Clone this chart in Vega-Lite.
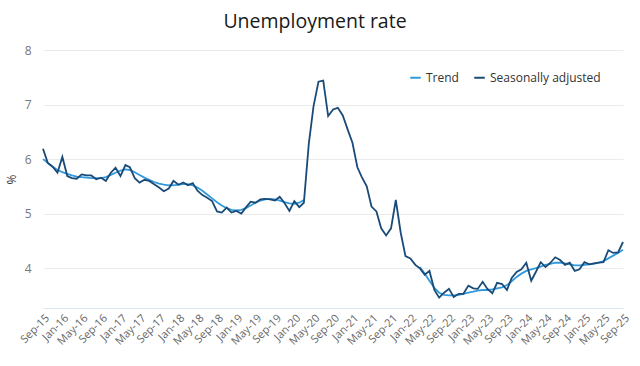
{
  "$schema": "https://vega.github.io/schema/vega-lite/v6.json",
  "autosize": "none",
  "width": 580,
  "height": 258,
  "padding": {"left": 43, "top": 50, "right": 17, "bottom": 58},
  "background": "white",
  "config": {
    "font": "Open Sans",
    "view": {"stroke": null},
    "axis": {"labelFont": "Open Sans", "titleFont": "Open Sans"},
    "legend": {"labelFont": "Open Sans"}
  },
  "title": {
    "text": "Unemployment rate",
    "fontSize": 19.5,
    "fontWeight": "normal",
    "color": "#1a1a1a",
    "offset": 12,
    "dx": -18
  },
  "datasets": {
    "sa": [
      {"date": "2015-09-01", "value": 6.19}, {"date": "2015-10-01", "value": 5.93}, {"date": "2015-11-01", "value": 5.86}, {"date": "2015-12-01", "value": 5.75},
      {"date": "2016-01-01", "value": 6.04}, {"date": "2016-02-01", "value": 5.69}, {"date": "2016-03-01", "value": 5.65}, {"date": "2016-04-01", "value": 5.64},
      {"date": "2016-05-01", "value": 5.72}, {"date": "2016-06-01", "value": 5.7}, {"date": "2016-07-01", "value": 5.7}, {"date": "2016-08-01", "value": 5.63},
      {"date": "2016-09-01", "value": 5.66}, {"date": "2016-10-01", "value": 5.6}, {"date": "2016-11-01", "value": 5.75}, {"date": "2016-12-01", "value": 5.84},
      {"date": "2017-01-01", "value": 5.69}, {"date": "2017-02-01", "value": 5.89}, {"date": "2017-03-01", "value": 5.85}, {"date": "2017-04-01", "value": 5.65},
      {"date": "2017-05-01", "value": 5.57}, {"date": "2017-06-01", "value": 5.62}, {"date": "2017-07-01", "value": 5.6}, {"date": "2017-08-01", "value": 5.54},
      {"date": "2017-09-01", "value": 5.48}, {"date": "2017-10-01", "value": 5.41}, {"date": "2017-11-01", "value": 5.46}, {"date": "2017-12-01", "value": 5.6},
      {"date": "2018-01-01", "value": 5.53}, {"date": "2018-02-01", "value": 5.57}, {"date": "2018-03-01", "value": 5.52}, {"date": "2018-04-01", "value": 5.56},
      {"date": "2018-05-01", "value": 5.42}, {"date": "2018-06-01", "value": 5.34}, {"date": "2018-07-01", "value": 5.29}, {"date": "2018-08-01", "value": 5.23},
      {"date": "2018-09-01", "value": 5.04}, {"date": "2018-10-01", "value": 5.02}, {"date": "2018-11-01", "value": 5.11}, {"date": "2018-12-01", "value": 5.02},
      {"date": "2019-01-01", "value": 5.05}, {"date": "2019-02-01", "value": 5.0}, {"date": "2019-03-01", "value": 5.11}, {"date": "2019-04-01", "value": 5.22},
      {"date": "2019-05-01", "value": 5.2}, {"date": "2019-06-01", "value": 5.26}, {"date": "2019-07-01", "value": 5.27}, {"date": "2019-08-01", "value": 5.26},
      {"date": "2019-09-01", "value": 5.24}, {"date": "2019-10-01", "value": 5.31}, {"date": "2019-11-01", "value": 5.19}, {"date": "2019-12-01", "value": 5.05},
      {"date": "2020-01-01", "value": 5.23}, {"date": "2020-02-01", "value": 5.12}, {"date": "2020-03-01", "value": 5.2}, {"date": "2020-04-01", "value": 6.28},
      {"date": "2020-05-01", "value": 6.97}, {"date": "2020-06-01", "value": 7.42}, {"date": "2020-07-01", "value": 7.44}, {"date": "2020-08-01", "value": 6.79},
      {"date": "2020-09-01", "value": 6.91}, {"date": "2020-10-01", "value": 6.94}, {"date": "2020-11-01", "value": 6.8}, {"date": "2020-12-01", "value": 6.55},
      {"date": "2021-01-01", "value": 6.3}, {"date": "2021-02-01", "value": 5.85}, {"date": "2021-03-01", "value": 5.67}, {"date": "2021-04-01", "value": 5.5},
      {"date": "2021-05-01", "value": 5.13}, {"date": "2021-06-01", "value": 5.04}, {"date": "2021-07-01", "value": 4.73}, {"date": "2021-08-01", "value": 4.6},
      {"date": "2021-09-01", "value": 4.73}, {"date": "2021-10-01", "value": 5.25}, {"date": "2021-11-01", "value": 4.65}, {"date": "2021-12-01", "value": 4.22},
      {"date": "2022-01-01", "value": 4.18}, {"date": "2022-02-01", "value": 4.06}, {"date": "2022-03-01", "value": 4.0}, {"date": "2022-04-01", "value": 3.88},
      {"date": "2022-05-01", "value": 3.95}, {"date": "2022-06-01", "value": 3.6}, {"date": "2022-07-01", "value": 3.46}, {"date": "2022-08-01", "value": 3.55},
      {"date": "2022-09-01", "value": 3.62}, {"date": "2022-10-01", "value": 3.47}, {"date": "2022-11-01", "value": 3.53}, {"date": "2022-12-01", "value": 3.53},
      {"date": "2023-01-01", "value": 3.68}, {"date": "2023-02-01", "value": 3.63}, {"date": "2023-03-01", "value": 3.62}, {"date": "2023-04-01", "value": 3.75},
      {"date": "2023-05-01", "value": 3.62}, {"date": "2023-06-01", "value": 3.54}, {"date": "2023-07-01", "value": 3.73}, {"date": "2023-08-01", "value": 3.71},
      {"date": "2023-09-01", "value": 3.6}, {"date": "2023-10-01", "value": 3.82}, {"date": "2023-11-01", "value": 3.93}, {"date": "2023-12-01", "value": 3.98},
      {"date": "2024-01-01", "value": 4.1}, {"date": "2024-02-01", "value": 3.77}, {"date": "2024-03-01", "value": 3.93}, {"date": "2024-04-01", "value": 4.11},
      {"date": "2024-05-01", "value": 4.02}, {"date": "2024-06-01", "value": 4.1}, {"date": "2024-07-01", "value": 4.2}, {"date": "2024-08-01", "value": 4.15},
      {"date": "2024-09-01", "value": 4.06}, {"date": "2024-10-01", "value": 4.1}, {"date": "2024-11-01", "value": 3.95}, {"date": "2024-12-01", "value": 3.98},
      {"date": "2025-01-01", "value": 4.11}, {"date": "2025-02-01", "value": 4.07}, {"date": "2025-03-01", "value": 4.09}, {"date": "2025-04-01", "value": 4.1},
      {"date": "2025-05-01", "value": 4.11}, {"date": "2025-06-01", "value": 4.33}, {"date": "2025-07-01", "value": 4.28}, {"date": "2025-08-01", "value": 4.29},
      {"date": "2025-09-01", "value": 4.48}
    ],
    "trend": [
      {"date": "2015-09-01", "value": 6.0, "part": "a"}, {"date": "2015-10-01", "value": 5.93, "part": "a"}, {"date": "2015-11-01", "value": 5.86, "part": "a"}, {"date": "2015-12-01", "value": 5.8, "part": "a"},
      {"date": "2016-01-01", "value": 5.76, "part": "a"}, {"date": "2016-02-01", "value": 5.73, "part": "a"}, {"date": "2016-03-01", "value": 5.7, "part": "a"}, {"date": "2016-04-01", "value": 5.68, "part": "a"},
      {"date": "2016-05-01", "value": 5.67, "part": "a"}, {"date": "2016-06-01", "value": 5.66, "part": "a"}, {"date": "2016-07-01", "value": 5.65, "part": "a"}, {"date": "2016-08-01", "value": 5.65, "part": "a"},
      {"date": "2016-09-01", "value": 5.65, "part": "a"}, {"date": "2016-10-01", "value": 5.67, "part": "a"}, {"date": "2016-11-01", "value": 5.71, "part": "a"}, {"date": "2016-12-01", "value": 5.75, "part": "a"},
      {"date": "2017-01-01", "value": 5.79, "part": "a"}, {"date": "2017-02-01", "value": 5.81, "part": "a"}, {"date": "2017-03-01", "value": 5.8, "part": "a"}, {"date": "2017-04-01", "value": 5.76, "part": "a"},
      {"date": "2017-05-01", "value": 5.71, "part": "a"}, {"date": "2017-06-01", "value": 5.66, "part": "a"}, {"date": "2017-07-01", "value": 5.62, "part": "a"}, {"date": "2017-08-01", "value": 5.58, "part": "a"},
      {"date": "2017-09-01", "value": 5.55, "part": "a"}, {"date": "2017-10-01", "value": 5.53, "part": "a"}, {"date": "2017-11-01", "value": 5.52, "part": "a"}, {"date": "2017-12-01", "value": 5.52, "part": "a"},
      {"date": "2018-01-01", "value": 5.53, "part": "a"}, {"date": "2018-02-01", "value": 5.54, "part": "a"}, {"date": "2018-03-01", "value": 5.54, "part": "a"}, {"date": "2018-04-01", "value": 5.52, "part": "a"},
      {"date": "2018-05-01", "value": 5.48, "part": "a"}, {"date": "2018-06-01", "value": 5.42, "part": "a"}, {"date": "2018-07-01", "value": 5.35, "part": "a"}, {"date": "2018-08-01", "value": 5.28, "part": "a"},
      {"date": "2018-09-01", "value": 5.21, "part": "a"}, {"date": "2018-10-01", "value": 5.15, "part": "a"}, {"date": "2018-11-01", "value": 5.1, "part": "a"}, {"date": "2018-12-01", "value": 5.07, "part": "a"},
      {"date": "2019-01-01", "value": 5.06, "part": "a"}, {"date": "2019-02-01", "value": 5.07, "part": "a"}, {"date": "2019-03-01", "value": 5.1, "part": "a"}, {"date": "2019-04-01", "value": 5.15, "part": "a"},
      {"date": "2019-05-01", "value": 5.2, "part": "a"}, {"date": "2019-06-01", "value": 5.24, "part": "a"}, {"date": "2019-07-01", "value": 5.26, "part": "a"}, {"date": "2019-08-01", "value": 5.27, "part": "a"},
      {"date": "2019-09-01", "value": 5.26, "part": "a"}, {"date": "2019-10-01", "value": 5.24, "part": "a"}, {"date": "2019-11-01", "value": 5.21, "part": "a"}, {"date": "2019-12-01", "value": 5.19, "part": "a"},
      {"date": "2020-01-01", "value": 5.18, "part": "a"}, {"date": "2020-02-01", "value": 5.2, "part": "a"}, {"date": "2020-03-01", "value": 5.25, "part": "a"},
      {"date": "2022-03-01", "value": 4.02, "part": "b"}, {"date": "2022-04-01", "value": 3.9, "part": "b"},
      {"date": "2022-05-01", "value": 3.77, "part": "b"}, {"date": "2022-06-01", "value": 3.64, "part": "b"}, {"date": "2022-07-01", "value": 3.55, "part": "b"}, {"date": "2022-08-01", "value": 3.51, "part": "b"},
      {"date": "2022-09-01", "value": 3.5, "part": "b"}, {"date": "2022-10-01", "value": 3.5, "part": "b"}, {"date": "2022-11-01", "value": 3.51, "part": "b"}, {"date": "2022-12-01", "value": 3.53, "part": "b"},
      {"date": "2023-01-01", "value": 3.55, "part": "b"}, {"date": "2023-02-01", "value": 3.57, "part": "b"}, {"date": "2023-03-01", "value": 3.59, "part": "b"}, {"date": "2023-04-01", "value": 3.6, "part": "b"},
      {"date": "2023-05-01", "value": 3.6, "part": "b"}, {"date": "2023-06-01", "value": 3.61, "part": "b"}, {"date": "2023-07-01", "value": 3.63, "part": "b"}, {"date": "2023-08-01", "value": 3.65, "part": "b"},
      {"date": "2023-09-01", "value": 3.69, "part": "b"}, {"date": "2023-10-01", "value": 3.76, "part": "b"}, {"date": "2023-11-01", "value": 3.84, "part": "b"}, {"date": "2023-12-01", "value": 3.9, "part": "b"},
      {"date": "2024-01-01", "value": 3.95, "part": "b"}, {"date": "2024-02-01", "value": 3.98, "part": "b"}, {"date": "2024-03-01", "value": 4.0, "part": "b"}, {"date": "2024-04-01", "value": 4.03, "part": "b"},
      {"date": "2024-05-01", "value": 4.06, "part": "b"}, {"date": "2024-06-01", "value": 4.08, "part": "b"}, {"date": "2024-07-01", "value": 4.1, "part": "b"}, {"date": "2024-08-01", "value": 4.1, "part": "b"},
      {"date": "2024-09-01", "value": 4.09, "part": "b"}, {"date": "2024-10-01", "value": 4.07, "part": "b"}, {"date": "2024-11-01", "value": 4.05, "part": "b"}, {"date": "2024-12-01", "value": 4.05, "part": "b"},
      {"date": "2025-01-01", "value": 4.06, "part": "b"}, {"date": "2025-02-01", "value": 4.07, "part": "b"}, {"date": "2025-03-01", "value": 4.08, "part": "b"}, {"date": "2025-04-01", "value": 4.1, "part": "b"},
      {"date": "2025-05-01", "value": 4.13, "part": "b"}, {"date": "2025-06-01", "value": 4.18, "part": "b"}, {"date": "2025-07-01", "value": 4.23, "part": "b"}, {"date": "2025-08-01", "value": 4.28, "part": "b"},
      {"date": "2025-09-01", "value": 4.34, "part": "b"}
    ]
  },
  "encoding": {
    "x": {
      "field": "date",
      "type": "temporal",
      "scale": {"type": "utc", "nice": false},
      "axis": {
        "title": null,
        "labelExpr": "utcFormat(datum.value, '%b-%y')",
        "labelAngle": -45,
        "labelFontSize": 11,
        "labelColor": "#666666",
        "labelPadding": 4,
        "ticks": false,
        "grid": false,
        "domainColor": "#dde4f2",
        "domainWidth": 1,
        "labelOverlap": false,
        "values": [
          {"year": 2015, "month": 9, "date": 1, "utc": true}, {"year": 2016, "month": 1, "date": 1, "utc": true}, {"year": 2016, "month": 5, "date": 1, "utc": true}, {"year": 2016, "month": 9, "date": 1, "utc": true},
          {"year": 2017, "month": 1, "date": 1, "utc": true}, {"year": 2017, "month": 5, "date": 1, "utc": true}, {"year": 2017, "month": 9, "date": 1, "utc": true},
          {"year": 2018, "month": 1, "date": 1, "utc": true}, {"year": 2018, "month": 5, "date": 1, "utc": true}, {"year": 2018, "month": 9, "date": 1, "utc": true},
          {"year": 2019, "month": 1, "date": 1, "utc": true}, {"year": 2019, "month": 5, "date": 1, "utc": true}, {"year": 2019, "month": 9, "date": 1, "utc": true},
          {"year": 2020, "month": 1, "date": 1, "utc": true}, {"year": 2020, "month": 5, "date": 1, "utc": true}, {"year": 2020, "month": 9, "date": 1, "utc": true},
          {"year": 2021, "month": 1, "date": 1, "utc": true}, {"year": 2021, "month": 5, "date": 1, "utc": true}, {"year": 2021, "month": 9, "date": 1, "utc": true},
          {"year": 2022, "month": 1, "date": 1, "utc": true}, {"year": 2022, "month": 5, "date": 1, "utc": true}, {"year": 2022, "month": 9, "date": 1, "utc": true},
          {"year": 2023, "month": 1, "date": 1, "utc": true}, {"year": 2023, "month": 5, "date": 1, "utc": true}, {"year": 2023, "month": 9, "date": 1, "utc": true},
          {"year": 2024, "month": 1, "date": 1, "utc": true}, {"year": 2024, "month": 5, "date": 1, "utc": true}, {"year": 2024, "month": 9, "date": 1, "utc": true},
          {"year": 2025, "month": 1, "date": 1, "utc": true}, {"year": 2025, "month": 5, "date": 1, "utc": true}, {"year": 2025, "month": 9, "date": 1, "utc": true}
        ]
      }
    },
    "y": {
      "field": "value",
      "type": "quantitative",
      "scale": {"domain": [3.27, 8], "nice": false, "zero": false},
      "axis": {
        "title": "%",
        "titleFontSize": 12,
        "titleFontWeight": "normal",
        "titleColor": "#333333",
        "titleAngle": -90,
        "titleX": -32,
        "titleY": 129,
        "titleBaseline": "middle",
        "values": [4, 5, 6, 7, 8],
        "labelFontSize": 12,
        "labelColor": "#777777",
        "labelPadding": 12,
        "ticks": false,
        "domain": false,
        "gridColor": "#ebebeb",
        "gridWidth": 1
      }
    }
  },
  "layer": [
    {
      "data": {"name": "trend"},
      "mark": {"type": "line", "strokeWidth": 1.8, "interpolate": "linear"},
      "encoding": {
        "detail": {"field": "part", "type": "nominal"},
        "color": {
          "datum": "Trend",
          "type": "nominal",
          "scale": {"domain": ["Trend", "Seasonally adjusted"], "range": ["#3399dd", "#1a4b78"]},
          "legend": {
            "title": null,
            "orient": "none",
            "legendX": 366,
            "legendY": 21,
            "direction": "horizontal",
            "symbolType": "stroke",
            "symbolSize": 110,
            "symbolStrokeWidth": 2,
            "labelFontSize": 12,
            "labelColor": "#333333",
            "columnPadding": 11,
            "labelOffset": 4
          }
        }
      }
    },
    {
      "data": {"name": "sa"},
      "mark": {"type": "line", "strokeWidth": 1.8, "interpolate": "linear"},
      "encoding": {
        "color": {"datum": "Seasonally adjusted", "type": "nominal"}
      }
    }
  ]
}
